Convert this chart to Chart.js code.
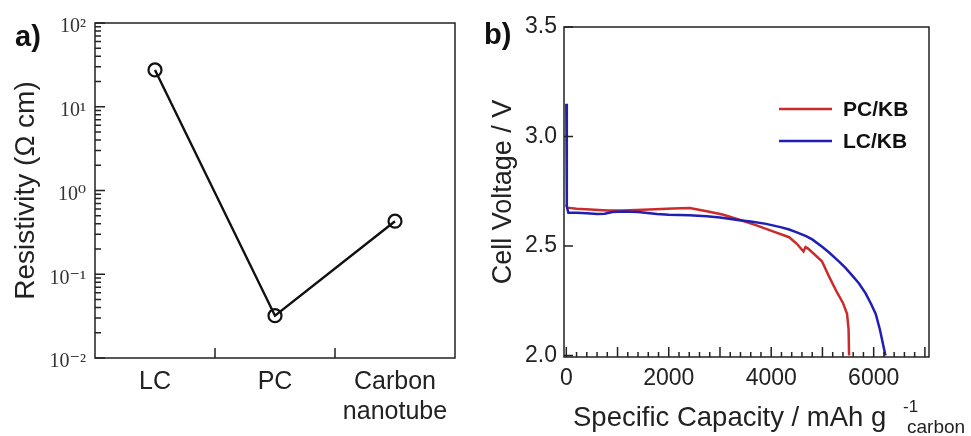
<!DOCTYPE html>
<html>
<head>
<meta charset="utf-8">
<script src="https://cdn.jsdelivr.net/npm/chart.js@4.4.1/dist/chart.umd.min.js"></script>
<style>
  body { margin: 0; background: #fff; }
  #wrap { position: relative; width: 971px; height: 436px; overflow: hidden; font-family: "Liberation Sans", Arial, sans-serif; color: #222; }
  canvas { position: absolute; top: 0; }
  #c1 { left: 0; }
  #c2 { left: 480px; }
  .panel { position: absolute; font-weight: bold; font-size: 29px; line-height: 29px; color: #111; }
  #xt2 { position: absolute; left: 573px; top: 403px; font-size: 27.5px; line-height: 27px; white-space: nowrap; }
  #xt2 .sup { position: absolute; left: 330px; top: -10px; font-size: 17px; }
  #xt2 .sub { position: absolute; left: 334px; top: 10px; font-size: 19px; }
</style>
</head>
<body>
<div id="wrap">
  <canvas id="c1" width="480" height="436"></canvas>
  <canvas id="c2" width="491" height="436"></canvas>
  <div class="panel" style="left:15px;top:22px">a)</div>
  <div class="panel" style="left:484px;top:20px">b)</div>
  <div id="xt2">Specific Capacity / mAh g<span class="sup">-1</span><span class="sub">carbon</span></div>
</div>
<script>
'use strict';
// panel a) resistivity
let materials = ['LC', 'PC', ['Carbon', 'nanotube']];
let resistivity = [27.5, 0.032, 0.43];
let decadeTicks = [0.01, 0.1, 1, 10, 100];
let decadeLabels = ['10\u207B\u00B2', '10\u207B\u00B9', '10\u2070', '10\u00B9', '10\u00B2'];

// panel b) discharge curves
let pcCap = [0, 20, 200, 470, 800, 1100, 1500, 2080, 2410, 2740, 3050, 3380, 3700, 4020, 4350, 4500, 4630, 4670, 4720, 4990, 5130, 5280, 5400, 5480, 5510, 5520];
let pcVolt = [2.69, 2.675, 2.670, 2.667, 2.662, 2.662, 2.665, 2.671, 2.673, 2.659, 2.644, 2.620, 2.595, 2.568, 2.540, 2.510, 2.475, 2.495, 2.488, 2.430, 2.360, 2.290, 2.240, 2.190, 2.120, 2.0];
let lcCap = [0, 10, 40, 200, 400, 600, 750, 900, 1100, 1400, 1770, 2000, 2400, 2740, 3000, 3380, 3600, 3900, 4200, 4350, 4500, 4680, 4800, 5000, 5130, 5320, 5450, 5600, 5710, 5840, 5950, 6040, 6120, 6230];
let lcVolt = [3.15, 2.68, 2.652, 2.652, 2.650, 2.646, 2.647, 2.655, 2.658, 2.655, 2.646, 2.643, 2.640, 2.636, 2.630, 2.618, 2.612, 2.601, 2.585, 2.575, 2.562, 2.545, 2.530, 2.495, 2.470, 2.430, 2.400, 2.360, 2.330, 2.285, 2.235, 2.190, 2.120, 2.0];
let capTicks = [0, 2000, 4000, 6000];
let capLabels = ['0', '2000', '4000', '6000'];
let voltTicks = [2.0, 2.5, 3.0, 3.5];
let voltLabels = ['2.0', '2.5', '3.0', '3.5'];

Chart.defaults.font.family = '"Liberation Sans", Arial, sans-serif';
Chart.defaults.color = '#222';

// frame round the plot plus inward tick marks
const frameTicks = {
  id: 'frameTicks',
  afterDatasetsDraw(chart, args, opts) {
    const ctx = chart.ctx;
    const a = chart.chartArea;
    ctx.save();
    ctx.strokeStyle = '#222';
    ctx.lineWidth = 1.5;
    ctx.strokeRect(a.left, a.top, a.right - a.left, a.bottom - a.top);
    ctx.beginPath();
    (opts.y || []).forEach(t => {
      let y = chart.scales.y.getPixelForValue(t[0]);
      ctx.moveTo(a.left, y);
      ctx.lineTo(a.left + t[1], y);
    });
    (opts.x || []).forEach(t => {
      let x = chart.scales.x.getPixelForValue(t[0]);
      ctx.moveTo(x, a.bottom);
      ctx.lineTo(x, a.bottom - t[1]);
    });
    ctx.stroke();
    ctx.restore();
  }
};

const lineLegend = {
  id: 'lineLegend',
  afterDraw(chart) {
    const ctx = chart.ctx;
    ctx.save();
    ctx.font = 'bold 21px "Liberation Sans", Arial, sans-serif';
    ctx.textBaseline = 'middle';
    chart.data.datasets.forEach((ds, i) => {
      let y = 109 + i * 32;
      ctx.strokeStyle = ds.borderColor;
      ctx.lineWidth = 2.5;
      ctx.beginPath();
      ctx.moveTo(299, y);
      ctx.lineTo(352, y);
      ctx.stroke();
      ctx.fillStyle = '#111';
      ctx.fillText(ds.label, 363, y + 1);
    });
    ctx.restore();
  }
};

// tick marks for the log axis
let logMarks = [];
for (let e = -2; e < 2; e++) {
  for (let m = 1; m <= 9; m++) {
    logMarks.push([m * Math.pow(10, e), m === 1 ? 10 : 6]);
  }
}
logMarks.push([100, 10]);

new Chart(document.getElementById('c1'), {
  type: 'line',
  data: {
    labels: materials,
    datasets: [{
      data: resistivity,
      borderColor: '#111',
      borderWidth: 2.4,
      pointRadius: 6.5,
      pointBorderWidth: 2.2,
      pointBackgroundColor: 'rgba(0,0,0,0)',
      pointBorderColor: '#111',
      tension: 0
    }]
  },
  options: {
    responsive: false,
    animation: false,
    layout: { padding: { top: 23, right: 25, left: 0, bottom: 0 } },
    plugins: { legend: { display: false }, tooltip: { enabled: false }, frameTicks: { y: logMarks, x: [[0.5, 10], [1.5, 10]] } },
    scales: {
      x: {
        type: 'category',
        offset: true,
        grid: { display: false, drawTicks: false },
        border: { display: false },
        ticks: { font: { size: 25 }, padding: 9, maxRotation: 0, color: '#222' },
        afterFit: s => { s.height = 78; }
      },
      y: {
        type: 'logarithmic',
        min: 0.01,
        max: 100,
        afterBuildTicks: s => { s.ticks = decadeTicks.map(v => ({ value: v })); },
        grid: { display: false, drawTicks: false },
        border: { display: false },
        ticks: {
          font: { family: '"Liberation Serif", "DejaVu Serif", serif', size: 20 },
          color: '#333',
          padding: 9,
          labelOffset: 4,
          autoSkip: false,
          callback: (v, i) => decadeLabels[i]
        },
        title: { display: true, text: 'Resistivity (\u03A9 cm)', font: { size: 28, lineHeight: 1.2 }, padding: { top: 9, bottom: 0 }, color: '#222' },
        afterFit: s => { s.width = 95; }
      }
    }
  },
  plugins: [frameTicks]
});

let capMarks = [];
for (let c = 0; c <= 7000; c += 200) {
  capMarks.push([c, c % 1000 === 0 ? 10 : 5]);
}

new Chart(document.getElementById('c2'), {
  type: 'scatter',
  data: {
    datasets: [{
      label: 'PC/KB',
      data: pcCap.map((c, i) => ({ x: c, y: pcVolt[i] })),
      showLine: true,
      borderColor: '#cc2b2b',
      borderWidth: 2.5,
      pointRadius: 0,
      order: 1
    }, {
      label: 'LC/KB',
      data: lcCap.map((c, i) => ({ x: c, y: lcVolt[i] })),
      showLine: true,
      borderColor: '#1f1fb4',
      borderWidth: 2.5,
      pointRadius: 0,
      order: 0
    }]
  },
  options: {
    responsive: false,
    animation: false,
    layout: { padding: { top: 27, right: 42, left: 0, bottom: 0 } },
    plugins: {
      legend: { display: false },
      tooltip: { enabled: false },
      frameTicks: { y: voltTicks.map(v => [v, 9]), x: capMarks }
    },
    scales: {
      x: {
        type: 'linear',
        min: -45,
        max: 7080,
        afterBuildTicks: s => { s.ticks = capTicks.map(v => ({ value: v })); },
        grid: { display: false, drawTicks: false },
        border: { display: false },
        ticks: { font: { size: 23 }, padding: 8, maxRotation: 0, color: '#222', callback: (v, i) => capLabels[i] },
        afterFit: s => { s.height = 79; }
      },
      y: {
        type: 'linear',
        min: 1.993,
        max: 3.5,
        afterBuildTicks: s => { s.ticks = voltTicks.map(v => ({ value: v })); },
        grid: { display: false, drawTicks: false },
        border: { display: false },
        ticks: { font: { size: 23 }, padding: 7, color: '#222', callback: (v, i) => voltLabels[i] },
        title: { display: true, text: 'Cell Voltage / V', font: { size: 27, lineHeight: 1.2 }, padding: { top: 7, bottom: 0 }, color: '#222' },
        afterFit: s => { s.width = 84; }
      }
    }
  },
  plugins: [frameTicks, lineLegend]
});
</script>
</body>
</html>
